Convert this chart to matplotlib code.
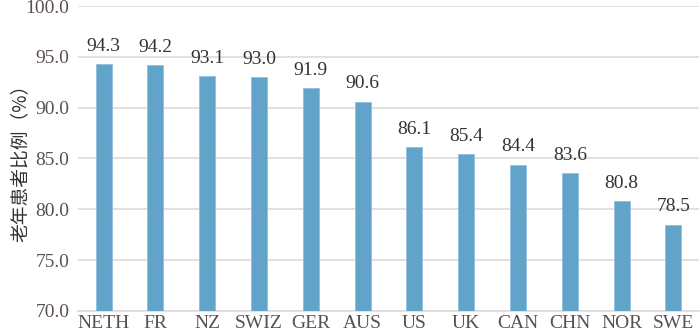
import matplotlib
matplotlib.use("Agg")
import matplotlib.pyplot as plt
from matplotlib.ticker import FixedLocator

countries = ["NETH", "FR", "NZ", "SWIZ", "GER", "AUS", "US", "UK", "CAN", "CHN", "NOR", "SWE"]
shares = [94.3, 94.2, 93.1, 93.0, 91.9, 90.6, 86.1, 85.4, 84.4, 83.6, 80.8, 78.5]
y_ticks = [70.0, 75.0, 80.0, 85.0, 90.0, 95.0, 100.0]

serif = ["Liberation Serif", "DejaVu Serif"]
text_color = "#5a5050"
bar_color = "#62a3ca"
fs = 14

fig = plt.figure(figsize=(7.0, 3.35), dpi=100)
ax = fig.add_axes([0.111, 0.072, 0.888, 0.91])

x = list(range(len(countries)))
ax.bar(x, [s - y_ticks[0] for s in shares], bottom=y_ticks[0], width=0.31,
       color=bar_color, edgecolor="#8fc0dd", linewidth=0.6, zorder=3)

for xi, s in zip(x, shares):
    ax.text(xi, s + 0.9, f"{s:.1f}", ha="center", va="bottom",
            fontsize=fs, color="#333333", family=serif)

ax.set_xlim(-0.5, len(countries) - 0.5)
ax.set_ylim(y_ticks[0], y_ticks[-1])
ax.yaxis.set_major_locator(FixedLocator(y_ticks))
ax.set_yticklabels([f"{t:.1f}" for t in y_ticks], family=serif, fontsize=fs, color=text_color)
ax.set_xticks(x)
ax.set_xticklabels(countries, family=serif, fontsize=fs, color=text_color)
ax.tick_params(axis="both", length=0, pad=3)
ax.tick_params(axis="y", pad=6)

ax.grid(axis="y", color="#e2d9d9", linewidth=1.2, zorder=0)
for side in ["top", "right", "left"]:
    ax.spines[side].set_visible(False)
ax.spines["bottom"].set_color("#e2d9d9")
ax.spines["bottom"].set_linewidth(1.2)

fig.text(20 / 700, 1 - 158 / 335, "老年患者比例（%）", rotation=90, ha="center", va="center",
         family=["Noto Sans CJK SC", "DejaVu Sans"], fontsize=13.5, color="#333333")

fig.savefig("out.png", dpi=100)
